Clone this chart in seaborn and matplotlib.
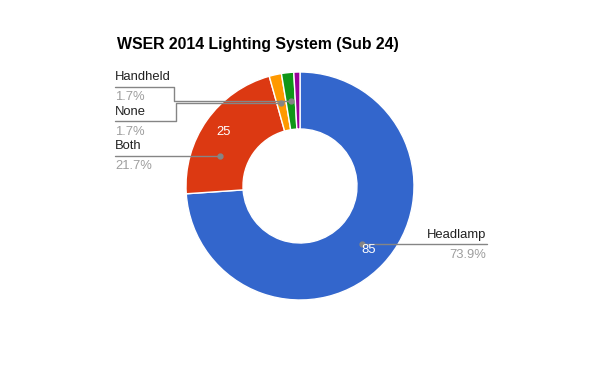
import numpy as np
import matplotlib.pyplot as plt
import seaborn as sns

# data
categories = ["Headlamp", "Both", "None", "Handheld", "Other"]
counts = [85, 25, 2, 2, 1]
colors = ["#3366cc", "#dc3912", "#ff9900", "#109618", "#990099"]
title = "WSER 2014 Lighting System (Sub 24)"

sns.set_theme(style="white")
plt.rcParams['font.family'] = ['Liberation Sans', 'DejaVu Sans']

# layout in pixels: figure size, donut centre and radius
W, H = 600, 371
CX, CY, R = 300, 186, 114


def P(x, y):
    # pixel (from top-left) -> data coordinates
    return (x - CX) / R, (CY - y) / R


fig = plt.figure(figsize=(6, 3.71), dpi=100)
ax = fig.add_axes([0, 0, 1, 1])
wedges, _ = ax.pie(counts, colors=colors, startangle=90, counterclock=False, radius=1,
                   wedgeprops=dict(width=0.5, edgecolor='white', linewidth=1))
ax.set_xlim(-CX / R, (W - CX) / R)
ax.set_ylim(-(H - CY) / R, CY / R)
ax.set_aspect('equal')
ax.axis('off')

total = sum(counts)
line_col = '#858585'
pct_col = '#9e9e9e'
fs = 9.4
ring = 0.75


def mid(w, r):
    a = np.deg2rad((w.theta1 + w.theta2) / 2)
    return r * np.cos(a), r * np.sin(a)


def pct(c):
    return f"{100 * c / total:.1f}%"


# values inside the big slices
for w, c in zip(wedges, counts):
    if c / total > 0.1:
        x, y = mid(w, 0.82)
        ax.text(x, y, str(c), color='white', fontsize=fs, ha='center', va='center')

# title
ax.text(*P(117, 49), title, fontsize=11.4, fontweight='bold', color='black',
        ha='left', va='baseline')

above, below = 6.8 / R, 13.3 / R

# Headlamp: right side, horizontal leader from mid of slice
ax_, ay = mid(wedges[0], ring)
xr = P(487, 0)[0]
ax.plot([ax_, xr], [ay, ay], color=line_col, lw=1)
ax.plot(ax_, ay, 'o', ms=3.5, color=line_col)
ax.text(P(486, 0)[0], ay + above, categories[0], fontsize=fs, color='#222222',
        ha='right', va='baseline')
ax.text(P(486, 0)[0], ay - below, pct(counts[0]), fontsize=fs, color=pct_col,
        ha='right', va='baseline')

# Both: left side, leader meets the ring at the label's height
xl = P(115, 0)[0]
ly = P(0, 155.7)[1]
bx = -np.sqrt(ring ** 2 - ly ** 2)
ax.plot([xl, bx], [ly, ly], color=line_col, lw=1)
ax.plot(bx, ly, 'o', ms=3.5, color=line_col)
ax.text(xl, ly + above, categories[1], fontsize=fs, color='#222222', ha='left', va='baseline')
ax.text(xl, ly - below, pct(counts[1]), fontsize=fs, color=pct_col, ha='left', va='baseline')

# small slices: bracketed leaders
for i, line_px, elbow_px in [(3, 86.7, 174.5), (2, 121.3, 176)]:
    sx, sy = mid(wedges[i], ring)
    ly = P(0, line_px)[1]
    ex = P(elbow_px, 0)[0]
    ax.plot([xl, ex, ex, sx], [ly, ly, sy, sy], color=line_col, lw=1)
    ax.plot(sx, sy, 'o', ms=3.5, color=line_col)
    ax.text(xl, ly + above, categories[i], fontsize=fs, color='#222222', ha='left', va='baseline')
    ax.text(xl, ly - below, pct(counts[i]), fontsize=fs, color=pct_col, ha='left', va='baseline')

fig.savefig("out.png", dpi=100, facecolor='white')
